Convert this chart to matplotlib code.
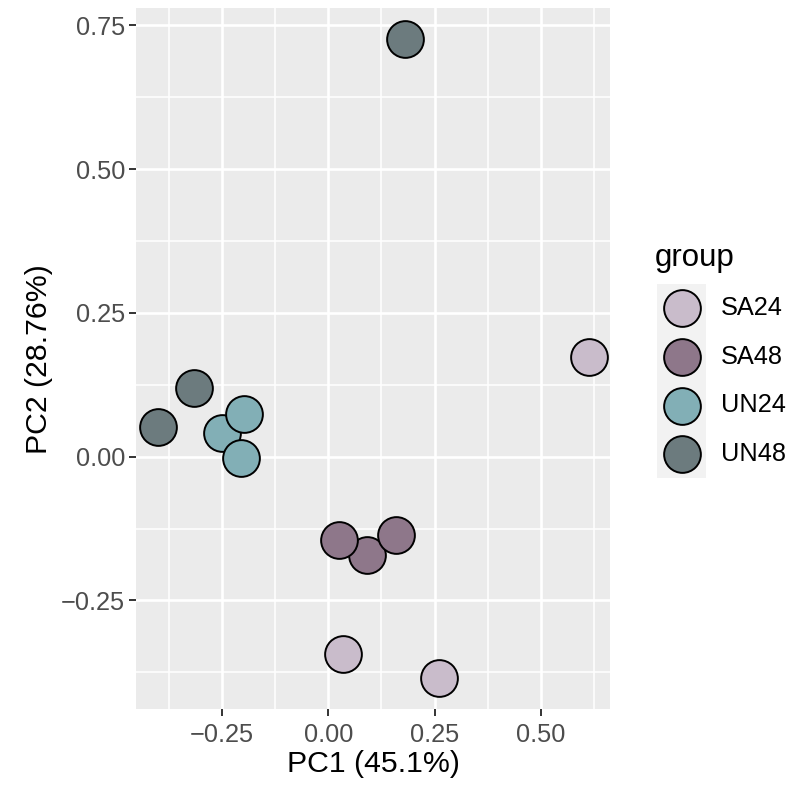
import numpy as np
import matplotlib.pyplot as plt
from matplotlib.patches import Rectangle

plt.rcParams['font.family'] = ['Liberation Sans', 'DejaVu Sans']

# PCA-Koordinaten je Probe
pc1 = [0.092, 0.026, 0.159, 0.034, 0.261, 0.614,
       -0.249, -0.198, -0.205, 0.181, -0.401, -0.315]
pc2 = [-0.171, -0.145, -0.137, -0.343, -0.384, 0.173,
       0.042, 0.074, -0.002, 0.726, 0.052, 0.119]
gruppe = ['SA48', 'SA48', 'SA48', 'SA24', 'SA24', 'SA24',
          'UN24', 'UN24', 'UN24', 'UN48', 'UN48', 'UN48']

gruppen = ['SA24', 'SA48', 'UN24', 'UN48']
farben = {'SA24': '#C9BCCB', 'SA48': '#8E778A', 'UN24': '#82AFB6', 'UN48': '#6C7B7E'}

x_ticks = [-0.25, 0.00, 0.25, 0.50]
y_ticks = [-0.25, 0.00, 0.25, 0.50, 0.75]

W, H = 801, 786
fig = plt.figure(figsize=(W / 100, H / 100), dpi=100)
ax = fig.add_axes([136 / W, 1 - 709.3 / H, (610 - 136) / W, (709.3 - 8) / H])
ax.set_facecolor('#EBEBEB')

# Gitter im ggplot-Stil
for v in np.arange(-0.375, 0.7, 0.25):
    ax.axvline(v, color='white', linewidth=1.15, zorder=0)
for v in np.arange(-0.375, 0.8, 0.25):
    ax.axhline(v, color='white', linewidth=1.15, zorder=0)
for v in x_ticks:
    ax.axvline(v, color='white', linewidth=1.9, zorder=0)
for v in y_ticks:
    ax.axhline(v, color='white', linewidth=1.9, zorder=0)

for i in range(len(pc1)):
    ax.scatter(pc1[i], pc2[i], s=700, color=farben[gruppe[i]],
               edgecolor='black', linewidth=1.4, zorder=3)

ax.set_xlim(-0.4525, 0.6628)
ax.set_ylim(-0.4393, 0.7803)
ax.set_xticks(x_ticks)
ax.set_yticks(y_ticks)
ax.set_xticklabels(['\u22120.25', '0.00', '0.25', '0.50'])
ax.set_yticklabels(['\u22120.25', '0.00', '0.25', '0.50', '0.75'])
ax.tick_params(length=4.8, width=1.4, color='#333333', labelcolor='#4D4D4D',
               labelsize=18.3, pad=3)
ax.tick_params(axis='x', pad=5)
for s in ax.spines.values():
    s.set_visible(False)

ax.set_xlabel('PC1 (45.1%)', fontsize=21.8, color='black', labelpad=2)
ax.set_ylabel('PC2 (28.76%)', fontsize=21.8, color='black', labelpad=6)

# Legende
lax = fig.add_axes([0, 0, 1, 1], facecolor='none')
lax.set_xlim(0, W)
lax.set_ylim(H, 0)
lax.axis('off')
lax.text(655, 258, 'group', fontsize=22.5, va='center', ha='left')
lax.add_patch(Rectangle((657, 284), 49, 193.5, facecolor='#F2F2F2', edgecolor='none'))
for k, g in enumerate(gruppen):
    y = 308.3 + k * 48.6
    lax.scatter(681.5, y, s=700, color=farben[g], edgecolor='black', linewidth=1.4)
    lax.text(721, y, g, fontsize=18.3, va='center', ha='left')

fig.savefig('out.png', dpi=100)
